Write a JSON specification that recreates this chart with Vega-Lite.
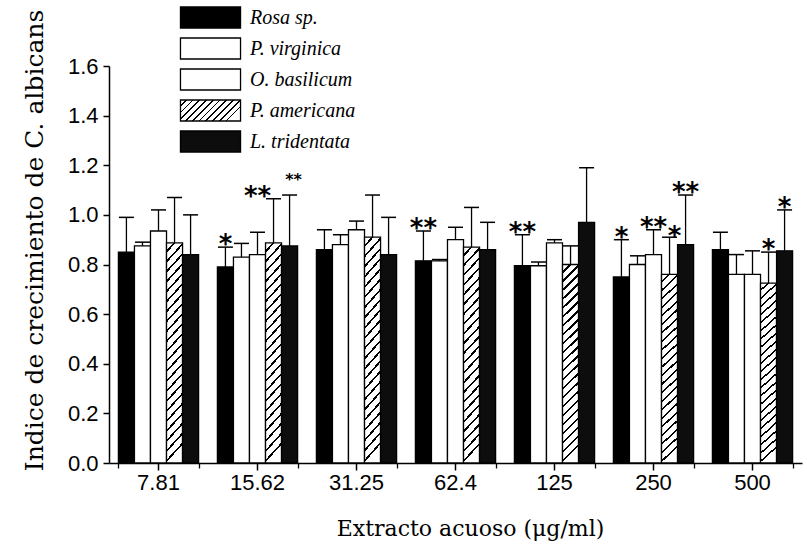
{
  "$schema": "https://vega.github.io/schema/vega-lite/v6.json",
  "width": 693,
  "height": 397,
  "autosize": {"type": "none"},
  "padding": {"left": 109, "top": 66, "right": 5, "bottom": 88},
  "background": "white",
  "view": {"stroke": null},
  "data": {"values": [
    {"conc": "7.81", "species": "Rosa sp.", "value": 0.85, "err": 0.99, "sig": ""},
    {"conc": "7.81", "species": "P. virginica", "value": 0.875, "err": 0.89, "sig": ""},
    {"conc": "7.81", "species": "O. basilicum", "value": 0.935, "err": 1.02, "sig": ""},
    {"conc": "7.81", "species": "P. americana", "value": 0.887, "err": 1.07, "sig": ""},
    {"conc": "7.81", "species": "L. tridentata", "value": 0.84, "err": 1.0, "sig": ""},
    {"conc": "15.62", "species": "Rosa sp.", "value": 0.79, "err": 0.87, "sig": "*"},
    {"conc": "15.62", "species": "P. virginica", "value": 0.83, "err": 0.885, "sig": ""},
    {"conc": "15.62", "species": "O. basilicum", "value": 0.84, "err": 0.93, "sig": ""},
    {"conc": "15.62", "species": "P. americana", "value": 0.887, "err": 1.065, "sig": "**"},
    {"conc": "15.62", "species": "L. tridentata", "value": 0.875, "err": 1.08, "sig": "**"},
    {"conc": "31.25", "species": "Rosa sp.", "value": 0.86, "err": 0.94, "sig": ""},
    {"conc": "31.25", "species": "P. virginica", "value": 0.88, "err": 0.92, "sig": ""},
    {"conc": "31.25", "species": "O. basilicum", "value": 0.94, "err": 0.975, "sig": ""},
    {"conc": "31.25", "species": "P. americana", "value": 0.91, "err": 1.08, "sig": ""},
    {"conc": "31.25", "species": "L. tridentata", "value": 0.84, "err": 0.99, "sig": ""},
    {"conc": "62.4", "species": "Rosa sp.", "value": 0.815, "err": 0.935, "sig": "**"},
    {"conc": "62.4", "species": "P. virginica", "value": 0.815, "err": 0.82, "sig": ""},
    {"conc": "62.4", "species": "O. basilicum", "value": 0.9, "err": 0.95, "sig": ""},
    {"conc": "62.4", "species": "P. americana", "value": 0.87, "err": 1.03, "sig": ""},
    {"conc": "62.4", "species": "L. tridentata", "value": 0.86, "err": 0.97, "sig": ""},
    {"conc": "125", "species": "Rosa sp.", "value": 0.795, "err": 0.92, "sig": "**"},
    {"conc": "125", "species": "P. virginica", "value": 0.795, "err": 0.81, "sig": ""},
    {"conc": "125", "species": "O. basilicum", "value": 0.887, "err": 0.9, "sig": ""},
    {"conc": "125", "species": "P. americana", "value": 0.8, "err": 0.875, "sig": ""},
    {"conc": "125", "species": "L. tridentata", "value": 0.97, "err": 1.19, "sig": ""},
    {"conc": "250", "species": "Rosa sp.", "value": 0.75, "err": 0.9, "sig": "*"},
    {"conc": "250", "species": "P. virginica", "value": 0.8, "err": 0.835, "sig": ""},
    {"conc": "250", "species": "O. basilicum", "value": 0.84, "err": 0.94, "sig": "**"},
    {"conc": "250", "species": "P. americana", "value": 0.76, "err": 0.91, "sig": "*"},
    {"conc": "250", "species": "L. tridentata", "value": 0.88, "err": 1.08, "sig": "**"},
    {"conc": "500", "species": "Rosa sp.", "value": 0.86, "err": 0.93, "sig": ""},
    {"conc": "500", "species": "P. virginica", "value": 0.76, "err": 0.84, "sig": ""},
    {"conc": "500", "species": "O. basilicum", "value": 0.76, "err": 0.855, "sig": ""},
    {"conc": "500", "species": "P. americana", "value": 0.725, "err": 0.85, "sig": "*"},
    {"conc": "500", "species": "L. tridentata", "value": 0.855, "err": 1.02, "sig": "*"}
  ]},
  "encoding": {
    "x": {
      "field": "conc", "type": "nominal",
      "sort": ["7.81", "15.62", "31.25", "62.4", "125", "250", "500"],
      "scale": {"paddingInner": 0.19, "paddingOuter": 0.095},
      "axis": {
        "orient": "bottom",
        "title": "Extracto acuoso (μg/ml)",
        "labelAngle": 0,
        "labelFont": "Liberation Sans", "labelFontSize": 22, "labelColor": "black", "labelPadding": 2,
        "titleFont": "DejaVu Serif", "titleFontSize": 22, "titleFontWeight": "normal", "titleColor": "black", "titlePadding": 25,
        "titleX": 361,
        "domainColor": "black", "domainWidth": 1.5, "tickColor": "black", "tickWidth": 1.5, "tickSize": 7
      }
    },
    "xOffset": {
      "field": "species",
      "sort": ["Rosa sp.", "P. virginica", "O. basilicum", "P. americana", "L. tridentata"],
      "scale": {"paddingInner": 0, "paddingOuter": 0}
    }
  },
  "resolve": {"axis": {"x": "independent"}},
  "layer": [
    {
      "mark": {"type": "bar", "stroke": "black", "strokeWidth": 1.3},
      "encoding": {
        "y": {
          "field": "value", "type": "quantitative",
          "scale": {"domain": [0, 1.6], "nice": false},
          "axis": {
            "title": "Indice de crecimiento de C. albicans",
            "values": [0, 0.1, 0.2, 0.3, 0.4, 0.5, 0.6, 0.7, 0.8, 0.9, 1.0, 1.1, 1.2, 1.3, 1.4, 1.5, 1.6],
            "labelExpr": "round(datum.value*10) % 2 === 0 ? format(datum.value, '.1f') : ''",
            "grid": false,
            "labelFont": "Liberation Sans", "labelFontSize": 22, "labelColor": "black", "labelPadding": 5,
            "titleFont": "DejaVu Serif", "titleFontSize": 25, "titleFontWeight": "normal", "titleColor": "black",
            "titleX": -75, "titleY": 174, "titleBaseline": "middle", "titleAngle": -90,
            "domainColor": "black", "domainWidth": 1.5, "tickColor": "black", "tickWidth": 1.5, "tickSize": 6
          }
        },
        "fill": {
          "condition": {
            "test": "datum.species === 'P. americana'",
            "value": {"gradient": "linear", "x1": 0, "y1": 0, "x2": 0.08, "y2": 1, "stops": [
              {"offset": 0, "color": "white"}, {"offset": 0.034, "color": "white"}, {"offset": 0.034, "color": "black"}, {"offset": 0.045, "color": "black"},
              {"offset": 0.045, "color": "white"}, {"offset": 0.079, "color": "white"}, {"offset": 0.079, "color": "black"}, {"offset": 0.09, "color": "black"},
              {"offset": 0.09, "color": "white"}, {"offset": 0.124, "color": "white"}, {"offset": 0.124, "color": "black"}, {"offset": 0.135, "color": "black"},
              {"offset": 0.135, "color": "white"}, {"offset": 0.169, "color": "white"}, {"offset": 0.169, "color": "black"}, {"offset": 0.18, "color": "black"},
              {"offset": 0.18, "color": "white"}, {"offset": 0.214, "color": "white"}, {"offset": 0.214, "color": "black"}, {"offset": 0.225, "color": "black"},
              {"offset": 0.225, "color": "white"}, {"offset": 0.259, "color": "white"}, {"offset": 0.259, "color": "black"}, {"offset": 0.27, "color": "black"},
              {"offset": 0.27, "color": "white"}, {"offset": 0.304, "color": "white"}, {"offset": 0.304, "color": "black"}, {"offset": 0.315, "color": "black"},
              {"offset": 0.315, "color": "white"}, {"offset": 0.349, "color": "white"}, {"offset": 0.349, "color": "black"}, {"offset": 0.36, "color": "black"},
              {"offset": 0.36, "color": "white"}, {"offset": 0.394, "color": "white"}, {"offset": 0.394, "color": "black"}, {"offset": 0.405, "color": "black"},
              {"offset": 0.405, "color": "white"}, {"offset": 0.439, "color": "white"}, {"offset": 0.439, "color": "black"}, {"offset": 0.45, "color": "black"},
              {"offset": 0.45, "color": "white"}, {"offset": 0.484, "color": "white"}, {"offset": 0.484, "color": "black"}, {"offset": 0.495, "color": "black"},
              {"offset": 0.495, "color": "white"}, {"offset": 0.529, "color": "white"}, {"offset": 0.529, "color": "black"}, {"offset": 0.54, "color": "black"},
              {"offset": 0.54, "color": "white"}, {"offset": 0.574, "color": "white"}, {"offset": 0.574, "color": "black"}, {"offset": 0.585, "color": "black"},
              {"offset": 0.585, "color": "white"}, {"offset": 0.619, "color": "white"}, {"offset": 0.619, "color": "black"}, {"offset": 0.63, "color": "black"},
              {"offset": 0.63, "color": "white"}, {"offset": 0.664, "color": "white"}, {"offset": 0.664, "color": "black"}, {"offset": 0.675, "color": "black"},
              {"offset": 0.675, "color": "white"}, {"offset": 0.709, "color": "white"}, {"offset": 0.709, "color": "black"}, {"offset": 0.72, "color": "black"},
              {"offset": 0.72, "color": "white"}, {"offset": 0.754, "color": "white"}, {"offset": 0.754, "color": "black"}, {"offset": 0.765, "color": "black"},
              {"offset": 0.765, "color": "white"}, {"offset": 0.799, "color": "white"}, {"offset": 0.799, "color": "black"}, {"offset": 0.81, "color": "black"},
              {"offset": 0.81, "color": "white"}, {"offset": 0.844, "color": "white"}, {"offset": 0.844, "color": "black"}, {"offset": 0.855, "color": "black"},
              {"offset": 0.855, "color": "white"}, {"offset": 0.889, "color": "white"}, {"offset": 0.889, "color": "black"}, {"offset": 0.9, "color": "black"},
              {"offset": 0.9, "color": "white"}, {"offset": 0.934, "color": "white"}, {"offset": 0.934, "color": "black"}, {"offset": 0.945, "color": "black"},
              {"offset": 0.945, "color": "white"}, {"offset": 0.979, "color": "white"}, {"offset": 0.979, "color": "black"}, {"offset": 0.99, "color": "black"},
              {"offset": 0.99, "color": "white"}, {"offset": 1, "color": "white"}
            ]}
          },
          "field": "species", "type": "nominal",
          "sort": ["Rosa sp.", "P. virginica", "O. basilicum", "P. americana", "L. tridentata"],
          "scale": {
            "domain": ["Rosa sp.", "P. virginica", "O. basilicum", "P. americana", "L. tridentata"],
            "range": ["#000000", "#ffffff", "#ffffff",
              {"expr": "{gradient:'linear',x1:0,y1:0,x2:1,y2:0.35,stops:[{offset:0,color:'white'},{offset:0.074,color:'white'},{offset:0.074,color:'black'},{offset:0.1,color:'black'},{offset:0.1,color:'white'},{offset:0.174,color:'white'},{offset:0.174,color:'black'},{offset:0.2,color:'black'},{offset:0.2,color:'white'},{offset:0.274,color:'white'},{offset:0.274,color:'black'},{offset:0.3,color:'black'},{offset:0.3,color:'white'},{offset:0.374,color:'white'},{offset:0.374,color:'black'},{offset:0.4,color:'black'},{offset:0.4,color:'white'},{offset:0.474,color:'white'},{offset:0.474,color:'black'},{offset:0.5,color:'black'},{offset:0.5,color:'white'},{offset:0.574,color:'white'},{offset:0.574,color:'black'},{offset:0.6,color:'black'},{offset:0.6,color:'white'},{offset:0.674,color:'white'},{offset:0.674,color:'black'},{offset:0.7,color:'black'},{offset:0.7,color:'white'},{offset:0.774,color:'white'},{offset:0.774,color:'black'},{offset:0.8,color:'black'},{offset:0.8,color:'white'},{offset:0.874,color:'white'},{offset:0.874,color:'black'},{offset:0.9,color:'black'},{offset:0.9,color:'white'},{offset:0.974,color:'white'},{offset:0.974,color:'black'},{offset:1,color:'black'},{offset:1,color:'white'}]}"},
              "#0d0d0d"]
          },
          "legend": {
            "title": null,
            "orient": "none",
            "legendX": 90,
            "legendY": -60,
            "symbolType": "M-2.86,-1L2.86,-1L2.86,1L-2.86,1Z",
            "symbolSize": 441,
            "symbolStrokeColor": "black",
            "symbolStrokeWidth": 1.3,
            "symbolOpacity": 1,
            "labelFont": "Liberation Serif",
            "labelFontStyle": "italic",
            "labelFontSize": 20,
            "labelColor": "black",
            "labelOffset": 28,
            "rowPadding": 4
          }
        }
      }
    },
    {
      "mark": {"type": "rule", "stroke": "black", "strokeWidth": 1.3},
      "encoding": {
        "x": {
          "field": "conc", "type": "nominal",
          "sort": ["7.81", "15.62", "31.25", "62.4", "125", "250", "500"],
          "axis": {"orient": "bottom", "title": null, "labels": false, "domain": false, "tickBand": "extent", "tickColor": "black", "tickWidth": 1.3, "tickSize": 5}
        },
        "y": {"field": "value", "type": "quantitative"},
        "y2": {"field": "err"}
      }
    },
    {
      "mark": {"type": "tick", "color": "black", "thickness": 1.5, "size": 15, "opacity": 1},
      "encoding": {
        "x": {"field": "conc", "type": "nominal", "sort": ["7.81", "15.62", "31.25", "62.4", "125", "250", "500"], "axis": null},
        "y": {"field": "err", "type": "quantitative"}
      }
    },
    {
      "transform": [{"filter": "datum.sig !== '' && !(datum.conc === '15.62' && (datum.species === 'P. americana' || datum.species === 'L. tridentata')) && !(datum.conc === '250' && datum.species === 'P. americana')"}],
      "mark": {"type": "text", "font": "DejaVu Sans", "fontWeight": "bold", "fontSize": 26, "baseline": "alphabetic", "dy": 6, "color": "black"},
      "encoding": {
        "x": {"field": "conc", "type": "nominal", "sort": ["7.81", "15.62", "31.25", "62.4", "125", "250", "500"], "axis": null},
        "y": {"field": "err", "type": "quantitative"},
        "text": {"field": "sig"}
      }
    },
    {
      "transform": [{"filter": "datum.conc === '250' && datum.species === 'P. americana'"}],
      "mark": {"type": "text", "font": "DejaVu Sans", "fontWeight": "bold", "fontSize": 26, "baseline": "alphabetic", "dy": 8, "dx": 5, "color": "black"},
      "encoding": {
        "x": {"field": "conc", "type": "nominal", "sort": ["7.81", "15.62", "31.25", "62.4", "125", "250", "500"], "axis": null},
        "y": {"field": "err", "type": "quantitative"},
        "text": {"field": "sig"}
      }
    },
    {
      "transform": [{"filter": "datum.conc === '15.62' && datum.species === 'P. americana'"}],
      "mark": {"type": "text", "font": "DejaVu Sans", "fontWeight": "bold", "fontSize": 26, "baseline": "alphabetic", "dy": 6, "dx": -16, "color": "black"},
      "encoding": {
        "x": {"field": "conc", "type": "nominal", "sort": ["7.81", "15.62", "31.25", "62.4", "125", "250", "500"], "axis": null},
        "y": {"field": "err", "type": "quantitative"},
        "text": {"field": "sig"}
      }
    },
    {
      "transform": [{"filter": "datum.conc === '15.62' && datum.species === 'L. tridentata'"}],
      "mark": {"type": "text", "font": "DejaVu Sans", "fontWeight": "bold", "fontSize": 16, "baseline": "alphabetic", "dy": -10, "dx": 4, "color": "black"},
      "encoding": {
        "x": {"field": "conc", "type": "nominal", "sort": ["7.81", "15.62", "31.25", "62.4", "125", "250", "500"], "axis": null},
        "y": {"field": "err", "type": "quantitative"},
        "text": {"field": "sig"}
      }
    }
  ]
}
